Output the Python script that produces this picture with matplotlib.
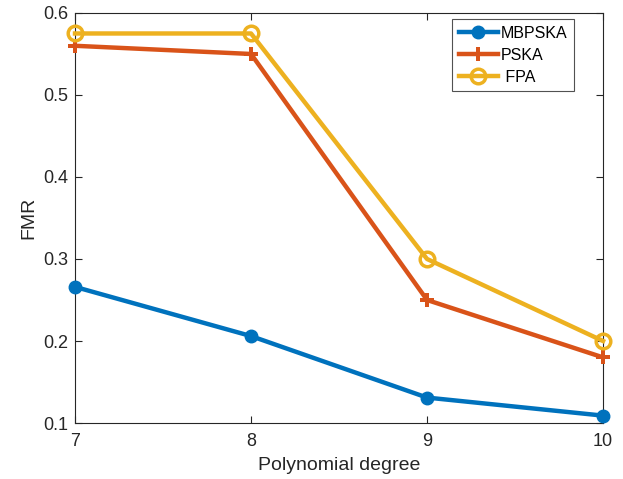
import matplotlib.pyplot as plt
import numpy as np

degree = [7, 8, 9, 10]
mbpska = [0.266, 0.206, 0.131, 0.109]
pska = [0.56, 0.55, 0.25, 0.18]
fpa = [0.575, 0.575, 0.30, 0.20]

plt.rcParams['font.family'] = ['Liberation Sans', 'DejaVu Sans']
plt.rcParams['font.size'] = 11

fig = plt.figure(figsize=(6.23, 4.79), dpi=100)
ax = fig.add_axes([0.1204, 0.1169, 0.8476, 0.856])

ax.plot(degree, mbpska, color='#0072BD', lw=3.2, marker='o', ms=9, label='MBPSKA', clip_on=False, zorder=3)
ax.plot(degree, pska, color='#D95319', lw=3.2, marker='P', ms=9.5, mew=0, label='PSKA', clip_on=False, zorder=3)
ax.plot(degree, fpa, color='#EDB120', lw=3.2, marker='o', ms=10.5, mfc='none', mew=2.5, label=' FPA', clip_on=False, zorder=3)

ax.set_xlim(7, 10)
ax.set_ylim(0.1, 0.6)
ax.set_xticks(degree)
ax.set_yticks(np.arange(0.1, 0.61, 0.1))
ax.tick_params(direction='in', top=True, right=True, length=5, colors='#262626', labelsize=13)
ax.tick_params(axis='x', pad=7)
ax.tick_params(axis='y', pad=5)
for s in ax.spines.values():
    s.set_color('#262626')
    s.set_linewidth(0.8)
ax.set_xlabel('Polynomial degree', fontsize=14, color='#262626', labelpad=5)
ax.set_ylabel('FMR', fontsize=14, color='#262626', labelpad=4)

leg = ax.legend(loc='upper right', bbox_to_anchor=(0.945, 0.985), fancybox=False, edgecolor='#262626',
                fontsize=11.5, handlelength=2.45, borderpad=0.4, labelspacing=0.45, handletextpad=0.2,
                borderaxespad=0)
leg.get_frame().set_linewidth(0.8)

plt.savefig('out.png', dpi=100)
